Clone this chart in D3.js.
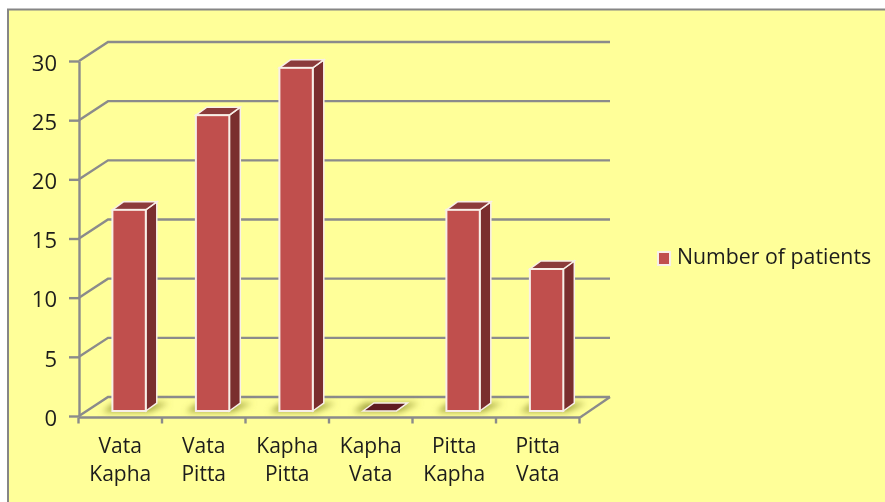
<!DOCTYPE html>
<html>
<head>
<meta charset="utf-8">
<script src="https://cdn.jsdelivr.net/npm/d3@7"></script>
<style>
  html, body { margin: 0; padding: 0; background: white; }
  svg { display: block; }
  text { font-family: "Open Sans", "Noto Sans", sans-serif; fill: #1c1c1c; }
</style>
</head>
<body>
<svg width="885" height="502"></svg>
<script>
(function () {

  var categories = [['Vata', 'Kapha'], ['Vata', 'Pitta'], ['Kapha', 'Pitta'], ['Kapha', 'Vata'], ['Pitta', 'Kapha'], ['Pitta', 'Vata']]
  var patients = [17, 25, 29, 0, 17, 12]
  var yTicks = [0, 5, 10, 15, 20, 25, 30]
  var seriesName = 'Number of patients'

  var svg = d3.select('svg')

  // how far the back wall sits from the front axis
  var wallX = 29
  var wallY = 19
  // how deep each bar is
  var barX = 11
  var barY = 8

  var gridColor = '#8b8b8b'
  var front = '#c0504d'
  var top = '#8b3a3a'
  var side = '#7a2e2f'
  var edge = '#f8efe8'

  var xScale = d3.scaleBand()
    .domain(d3.range(categories.length))
    .range([79, 580])
  var yScale = d3.scaleLinear().domain([0, 30]).range([416, 61])
  // bars stand a bit behind the front edge of the floor, same units per value
  var barHeight = d3.scaleLinear().domain([0, 30]).range([0, 355])
  var barBase = 411
  var barWidth = xScale.step() * 0.4
  var barLeft = function (i) {
    return xScale(i) + xScale.step() * 0.4
  }

  var defs = svg.append('defs')
  defs.append('filter').attr('id', 'blur')
    .attr('x', '-30%').attr('y', '-100%').attr('width', '160%').attr('height', '300%')
    .append('feGaussianBlur').attr('stdDeviation', 3)
  // the picture is a bit soft everywhere
  defs.append('filter').attr('id', 'soft')
    .attr('x', '-5%').attr('y', '-5%').attr('width', '110%').attr('height', '110%')
    .append('feGaussianBlur').attr('stdDeviation', 0.35)

  // yellow panel, only the top and left edges of it show a border
  svg.append('rect')
    .attr('x', 8).attr('y', 10)
    .attr('width', 877).attr('height', 492)
    .attr('fill', '#ffff99')
  svg.append('path')
    .attr('d', 'M8,502V9.5H885')
    .attr('fill', 'none')
    .attr('stroke', '#868686')
    .attr('stroke-width', 2)

  var chart = svg.append('g').attr('filter', 'url(#soft)')

  // gridlines: a diagonal going back, then along the wall
  chart.selectAll('.grid')
    .data(yTicks)
    .enter().append('polyline')
    .attr('class', 'grid')
    .attr('fill', 'none')
    .attr('stroke', gridColor)
    .attr('stroke-width', 2.4)
    .attr('points', function (d) {
      var y = yScale(d)
      return [[79, y], [79 + wallX, y - wallY], [xScale.range()[1] + 30, y - wallY]].join(' ')
    })

  // floor right edge
  chart.append('line')
    .attr('x1', xScale.range()[1] + 30).attr('y1', yScale(0) - wallY)
    .attr('x2', xScale.range()[1]).attr('y2', yScale(0) + 1.5)
    .attr('stroke', gridColor)
    .attr('stroke-width', 2.4)

  // axes
  var yAxis = d3.axisLeft(yScale).tickValues(yTicks).tickSize(10).tickSizeOuter(0).tickPadding(12)
  var xAxis = d3.axisBottom(xScale).tickSize(0).tickFormat('')

  var yG = chart.append('g').attr('transform', 'translate(79,0)').call(yAxis)
  yG.select('.domain').attr('stroke', gridColor).attr('stroke-width', 2.4)
  yG.selectAll('.tick line').attr('stroke', gridColor).attr('stroke-width', 2.4)
  yG.selectAll('.tick text')
    .attr('font-size', 22)
    .attr('font-family', '"Open Sans"')
    .attr('fill', '#1c1c1c')
    .attr('dy', '0.42em')

  var xG = chart.append('g').attr('transform', 'translate(0,417.5)').call(xAxis)
  xG.select('.domain').attr('stroke', gridColor).attr('stroke-width', 2.4).attr('d', 'M79,0H580')
  xG.selectAll('.tick').remove()

  // category ticks sit on the band edges, not the centres
  xG.selectAll('.edge')
    .data(d3.range(categories.length + 1))
    .enter().append('line')
    .attr('class', 'edge')
    .attr('x1', function (i) { return xScale.range()[0] + i * xScale.step() - 0.5 })
    .attr('x2', function (i) { return xScale.range()[0] + i * xScale.step() - 0.5 })
    .attr('y1', 0)
    .attr('y2', 6)
    .attr('stroke', gridColor)
    .attr('stroke-width', 2.4)

  // two line category labels
  var labels = chart.selectAll('.cat')
    .data(categories)
    .enter().append('text')
    .attr('class', 'cat')
    .attr('text-anchor', 'middle')
    .attr('font-size', 21)
    .attr('transform', function (d, i) {
      return 'translate(' + (xScale(i) + xScale.bandwidth() / 2) + ',453)'
    })
  labels.append('tspan').attr('x', -0.5).attr('y', 0).text(function (d) { return d[0] })
  labels.append('tspan').attr('x', -0.5).attr('y', 28).text(function (d) { return d[1] })

  // bars
  var bars = chart.selectAll('.bar')
    .data(patients)
    .enter().append('g')
    .attr('class', 'bar')

  // soft shadow on the floor
  bars.append('polygon')
    .attr('fill', '#a3a540')
    .attr('filter', 'url(#blur)')
    .attr('points', function (d, i) {
      var x = barLeft(i)
      return [[x - 10, barBase + 1], [x + barWidth + 3, barBase + 1], [x + barWidth + barX + 12, barBase - barY], [x + 2, barBase - barY]].join(' ')
    })

  bars.append('polygon')
    .attr('fill', side)
    .attr('stroke', edge)
    .attr('stroke-width', 1.5)
    .attr('points', function (d, i) {
      var x = barLeft(i) + barWidth
      var h = barHeight(d)
      return [[x, barBase], [x + barX, barBase - barY], [x + barX, barBase - barY - h], [x, barBase - h]].join(' ')
    })

  bars.append('polygon')
    .attr('fill', function (d) { return d === 0 ? '#5e1f24' : top })
    .attr('stroke', edge)
    .attr('stroke-width', 1.5)
    .attr('points', function (d, i) {
      var x = barLeft(i)
      var y = barBase - barHeight(d)
      return [[x, y], [x + barX, y - barY], [x + barWidth + barX, y - barY], [x + barWidth, y]].join(' ')
    })

  bars.append('rect')
    .attr('fill', front)
    .attr('stroke', edge)
    .attr('stroke-width', 2)
    .attr('x', function (d, i) { return barLeft(i) })
    .attr('y', function (d) { return barBase - barHeight(d) })
    .attr('width', barWidth)
    .attr('height', function (d) { return barHeight(d) })
    .attr('display', function (d) { return d === 0 ? 'none' : null })

  // legend
  chart.append('rect')
    .attr('x', 658).attr('y', 252)
    .attr('width', 12).attr('height', 13)
    .attr('fill', front)
    .attr('stroke', edge)
    .attr('stroke-width', 2)
  chart.append('text')
    .attr('x', 677).attr('y', 264)
    .attr('font-size', 21.3)
    .text(seriesName)

})()
</script>
</body>
</html>
